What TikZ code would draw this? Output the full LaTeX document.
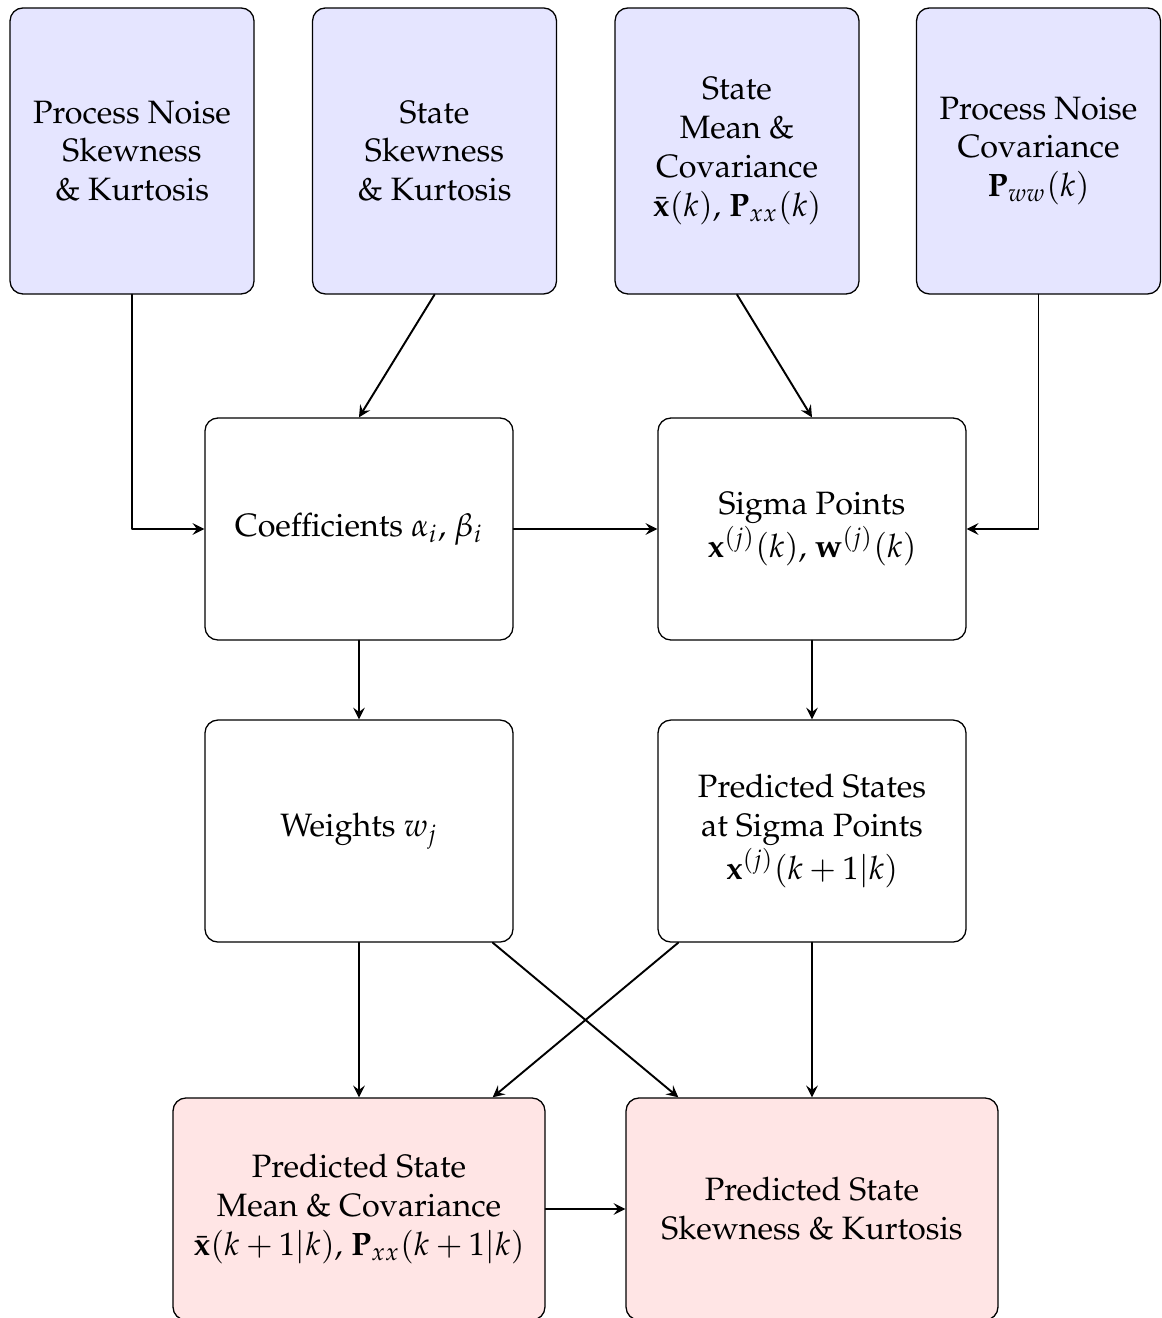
\documentclass[tikz,border=0pt]{standalone}
\usepackage[T1]{fontenc}
\usepackage{mathpazo}
\usepackage{amsmath}
\begin{document}
\begin{tikzpicture}[>=stealth, line join=round, line cap=round,
	box/.style={draw, rounded corners, align=center, minimum width=3.348cm, minimum height=2.413cm},
	inbox/.style={box, fill=blue!10, minimum width=2.652cm, minimum height=3.109cm},
	outbox/.style={box, fill=red!10, minimum width=4.043cm},
	flow/.style={->, semithick}]
				\useasboundingbox (0,0) rectangle (12.62,-14.326);
				% inputs
				\node[inbox] (PNS) at (1.435,-1.641) {Process Noise\\Skewness\\\& Kurtosis};
				\node[inbox] (SSK) at (4.723,-1.641) {State\\Skewness\\\& Kurtosis};
				\node[inbox] (SMC) at (8.011,-1.641) {State\\Mean \&\\Covariance\\$\bar{\mathbf{x}}(k)$, $\mathbf{P}_{xx}(k)$};
				\node[inbox] (PNC) at (11.288,-1.641) {Process Noise\\Covariance\\$\mathbf{P}_{ww}(k)$};
				% middle
				\node[box] (CO) at (3.902,-5.750) {Coefficients $\alpha_i$, $\beta_i$};
				\node[box] (SP) at (8.826,-5.750) {Sigma Points\\$\mathbf{x}^{(j)}(k)$, $\mathbf{w}^{(j)}(k)$};
				\node[box] (WE) at (3.902,-9.033) {Weights $w_j$};
				\node[box] (PS) at (8.826,-9.033) {Predicted States\\at Sigma Points\\$\mathbf{x}^{(j)}(k+1|k)$};
				% outputs
				\node[outbox] (PMC) at (3.902,-13.141) {Predicted State\\Mean \& Covariance\\$\bar{\mathbf{x}}(k+1|k)$, $\mathbf{P}_{xx}(k+1|k)$};
				\node[outbox] (PSK) at (8.826,-13.141) {Predicted State\\Skewness \& Kurtosis};
				\draw[flow] (PNS) |- (CO);
				\draw[flow] (SSK.south) -- (CO.north);
				\draw[flow] (SMC.south) -- (SP.north);
				\draw[flow] (PNC) |- (SP);
				\draw[flow] (CO) -- (SP);
				\draw[flow] (CO) -- (WE);
				\draw[flow] (SP) -- (PS);
				\draw[flow] (WE) -- (PMC);
				\draw[flow] (WE) -- (PSK);
				\draw[flow] (PS) -- (PMC);
				\draw[flow] (PS) -- (PSK);
				\draw[flow] (PMC) -- (PSK);
			\end{tikzpicture}
\end{document}
